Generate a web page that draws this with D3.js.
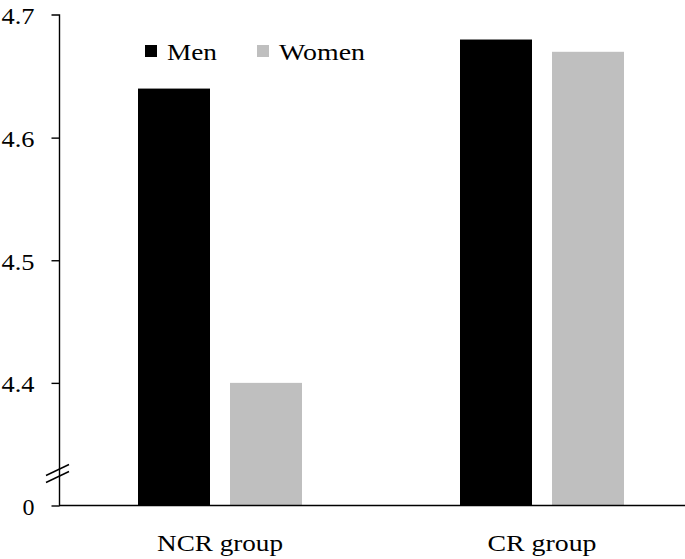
<!DOCTYPE html>
<html>
<head>
<meta charset="utf-8">
<script src="https://cdn.jsdelivr.net/npm/d3@7"></script>
<style>
html,body{margin:0;padding:0;background:#fff;}
svg{display:block;}
</style>
</head>
<body>
<svg id="chart" width="685" height="559"></svg>
<script>
const groups = ["NCR group", "CR group"];
const series = ["Men", "Women"];
const men = [4.64, 4.68];
const women = [4.40, 4.67];
const tickValues = [4.3, 4.4, 4.5, 4.6, 4.7];
const tickLabels = ["0", "4.4", "4.5", "4.6", "4.7"];
const colors = {Men: "#000000", Women: "#bfbfbf"};
const FONT = "'Liberation Serif', 'DejaVu Serif', serif";
const FS = 23;
// rendered widths of the reference's text (Times-like, slightly stretched)
const textWidths = {"0": 12, "4.4": 33, "4.5": 33, "4.6": 33, "4.7": 33,
  "NCR group": 126, "CR group": 109, "Men": 50, "Women": 86};

const svg = d3.select("#chart");
const W = 685, H = 559;
const y = d3.scaleLinear().domain([4.3, 4.7]).range([505.5, 15]);
const x0 = d3.scaleBand().domain(groups).range([59, 703]).padding(0);
const x1 = d3.scaleBand().domain(series).range([79, 243]).paddingInner(20/92).paddingOuter(0);

const data = groups.map((g, i) => ({group: g, values: [{key: "Men", v: men[i]}, {key: "Women", v: women[i]}]}));

function fit(sel) {
  sel.attr("textLength", function() { return textWidths[this.textContent]; })
     .attr("lengthAdjust", "spacingAndGlyphs");
}

// bars
const gg = svg.append("g").selectAll("g").data(data).join("g")
  .attr("transform", d => `translate(${x0(d.group)},0)`);
gg.selectAll("rect").data(d => d.values).join("rect")
  .attr("x", d => x1(d.key))
  .attr("width", x1.bandwidth())
  .attr("y", d => y(d.v))
  .attr("height", d => y(4.3) - y(d.v))
  .attr("fill", d => colors[d.key]);

// y axis
const yAxis = d3.axisLeft(y).tickValues(tickValues).tickSize(8).tickPadding(17)
  .tickFormat((d, i) => tickLabels[i]);
const ya = svg.append("g").attr("transform", "translate(59.5,0)").call(yAxis);
ya.attr("font-family", FONT).attr("font-size", FS);
ya.select(".domain").attr("d", `M-8,${y(4.7)}H0V${y(4.3)}`).attr("stroke", "#000").attr("stroke-width", 1.4);
ya.selectAll(".tick line").attr("stroke", "#000").attr("stroke-width", 1.4);
ya.selectAll(".tick text").attr("fill", "#000").attr("dy", "0.39em").call(fit);
ya.select(".tick:last-of-type line").remove();

// x axis
const xAxis = d3.axisBottom(x0).tickSize(0).tickPadding(0);
const xa = svg.append("g").attr("transform", `translate(0,${y(4.3)})`).call(xAxis);
xa.attr("font-family", FONT).attr("font-size", FS);
xa.select(".domain").attr("d", `M59,0H${W}`).attr("stroke", "#000").attr("stroke-width", 1.4);
xa.selectAll(".tick text").attr("fill", "#000").attr("y", 45).attr("dy", 0).call(fit);

// axis break marks
const by = y(4.3) - 35;
[0, 7].forEach(off => {
  svg.append("line")
    .attr("x1", 46).attr("y1", by + 5 + off)
    .attr("x2", 69).attr("y2", by - 6 + off)
    .attr("stroke", "#000").attr("stroke-width", 1.4);
});

// legend
const legendX = [145, 257];
const leg = svg.append("g").selectAll("g").data(series).join("g")
  .attr("transform", (d, i) => `translate(${legendX[i]},45)`);
leg.append("rect").attr("width", 12).attr("height", 12).attr("fill", d => colors[d]);
leg.append("text").attr("x", 22).attr("y", 15).attr("font-size", FS)
  .attr("font-family", FONT).attr("fill", "#000").text(d => d).call(fit);
</script>
</body>
</html>
